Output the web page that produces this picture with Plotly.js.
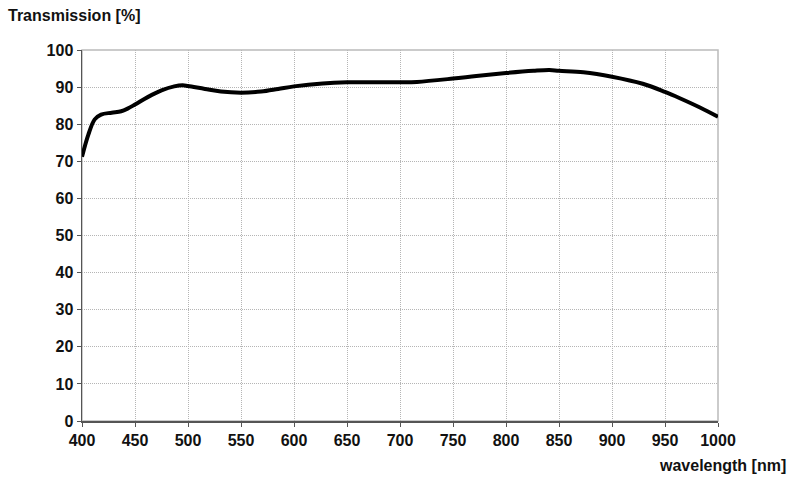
<!DOCTYPE html>
<html>
<head>
<meta charset="utf-8">
<script src="https://cdn.plot.ly/plotly-3.0.1.min.js"></script>
<style>body{margin:0;background:#fff}#chart{width:800px;height:484px}</style>
</head>
<body>
<div id="chart"></div>
<script>
// wavelength in nm, transmission in %
var wavelength = [400, 406, 412, 418, 428, 437, 443, 450, 462, 475, 487, 495, 500, 516, 531, 550, 569, 585, 600, 627, 650, 700, 716, 750, 772, 800, 826, 841, 850, 873, 900, 929, 950, 964, 983, 1000];
var transmission = [71.2, 77.2, 81.3, 82.6, 83.1, 83.5, 84.2, 85.3, 87.3, 89.1, 90.2, 90.5, 90.3, 89.5, 88.8, 88.5, 88.8, 89.5, 90.2, 91.0, 91.3, 91.3, 91.4, 92.3, 93.0, 93.8, 94.4, 94.6, 94.4, 94.0, 92.8, 90.9, 88.7, 87.0, 84.5, 82.0];
var xTicks = [400, 450, 500, 550, 600, 650, 700, 750, 800, 850, 900, 950, 1000];
var yTicks = [0, 10, 20, 30, 40, 50, 60, 70, 80, 90, 100];

var tickFont = {family: 'Liberation Sans, Arial, sans-serif', size: 16, color: '#111', weight: 'bold'};

var trace = {
    x: wavelength,
    y: transmission,
    type: 'scatter',
    mode: 'lines',
    line: {color: '#000', width: 4, shape: 'spline', smoothing: 1},
    hoverinfo: 'skip'
};

var layout = {
    width: 800,
    height: 484,
    margin: {l: 82, r: 82, t: 50, b: 63},
    paper_bgcolor: '#fff',
    plot_bgcolor: '#fff',
    showlegend: false,
    font: tickFont,
    xaxis: {
        range: [400, 1000],
        tickvals: xTicks,
        ticktext: xTicks.map(String),
        showgrid: true,
        gridcolor: '#b5b5b5',
        griddash: '1px,1px',
        gridwidth: 1,
        zeroline: false,
        showline: true,
        linecolor: '#555',
        linewidth: 1.5,
        ticks: 'outside',
        ticklen: 4,
        tickcolor: '#555',
        tickfont: tickFont
    },
    yaxis: {
        range: [0, 100],
        tickvals: yTicks,
        showgrid: true,
        gridcolor: '#b5b5b5',
        griddash: '1px,1px',
        gridwidth: 1,
        zeroline: false,
        showline: true,
        linecolor: '#555',
        linewidth: 1.5,
        ticks: 'outside',
        ticklen: 4,
        tickcolor: '#555',
        tickfont: tickFont
    },
    shapes: [{
        type: 'rect', xref: 'paper', yref: 'paper', x0: 0, x1: 1, y0: 0, y1: 1,
        line: {color: '#bbb', width: 1.5}, layer: 'below'
    }],
    annotations: [
        {text: 'Transmission [%]', xref: 'paper', yref: 'paper', x: -0.119, y: 1.094,
         xanchor: 'left', yanchor: 'middle', showarrow: false, font: tickFont},
        {text: 'wavelength [nm]', xref: 'paper', yref: 'paper', x: 1.11, y: -0.119,
         xanchor: 'right', yanchor: 'middle', showarrow: false, font: tickFont}
    ]
};

Plotly.newPlot('chart', [trace], layout, {staticPlot: true});
</script>
</body>
</html>
